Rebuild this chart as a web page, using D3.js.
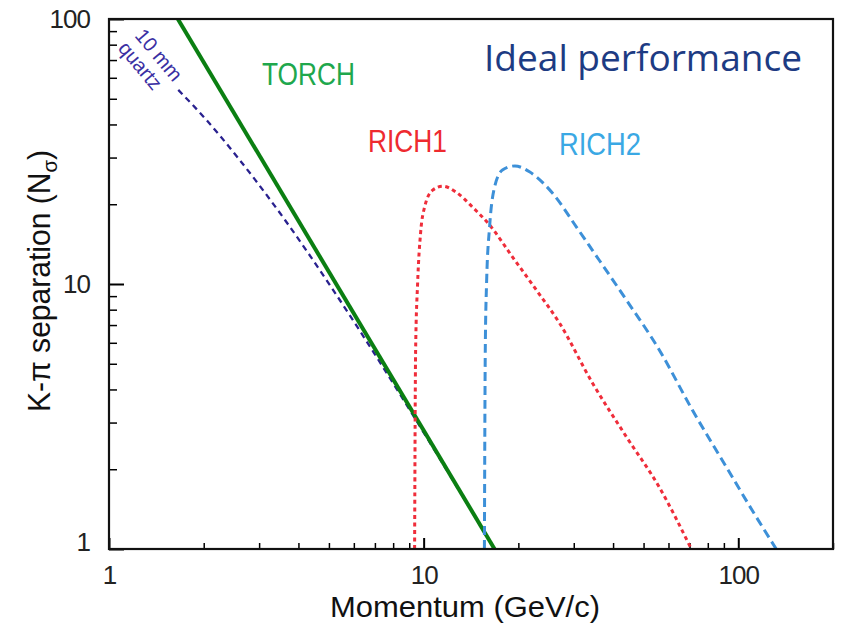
<!DOCTYPE html>
<html>
<head>
<meta charset="utf-8">
<script src="https://cdn.jsdelivr.net/npm/d3@7"></script>
<style>
  body { margin: 0; background: #fff; }
  svg text { font-family: "Liberation Sans", Arial, sans-serif; }
</style>
</head>
<body>
<div class="graph"></div>
<script>
// curves (momentum in GeV/c, separation in sigma)
const torchP = [1.655, 16.8];
const torchN = [100, 1];

const quartzP = [1.66, 2.04, 2.56, 3.63, 5.08, 6.95, 9.45, 12.38, 16.8];
const quartzN = [54.0, 41.6, 30.1, 17.4, 9.75, 5.5, 3.07, 1.82, 1];

const rich1P = [9.36, 9.43, 9.57, 9.78, 10.07, 10.68, 11.5, 12.7, 14.3, 16.2, 19.2, 22.8, 27.0, 34.4, 44.1, 56.1, 70.9];
const rich1N = [1, 5.64, 10.1, 15.6, 19.5, 22.6, 23.4, 22.2, 19.5, 16.7, 12.6, 9.5, 7.13, 4.23, 2.65, 1.71, 1];

const rich2P = [15.6, 15.7, 15.85, 16.2, 16.8, 17.8, 19.5, 21.7, 25.7, 30.6, 34.4, 44.1, 56.1, 71.4, 91.6, 110.7, 132];
const rich2N = [1, 5.64, 10.1, 16.4, 23.2, 26.9, 27.9, 26.5, 22.0, 16.4, 13.4, 8.7, 5.64, 3.35, 2.04, 1.4, 1];

const xMajor = [1, 10, 100];
const xMinor = [2, 3, 4, 5, 6, 7, 8, 9, 20, 30, 40, 50, 60, 70, 80, 90, 200];
const yMajor = [1, 10, 100];
const yMinor = [2, 3, 4, 5, 6, 7, 8, 9, 20, 30, 40, 50, 60, 70, 80, 90];

function main() {
  //setting
  const width = 848;
  const height = 626;
  const left = 109, right = 833, top = 19, bottom = 549;

  const xScale = d3.scaleLog().domain([1, 200]).range([left, right]);
  const yScale = d3.scaleLog().domain([1, 100]).range([bottom, top]);

  const svg = d3
    .select(".graph")
    .append("svg")
    .attr("width", width)
    .attr("height", height);

  svg.append("defs").append("clipPath").attr("id", "plot")
    .append("rect")
    .attr("x", left).attr("y", top)
    .attr("width", right - left).attr("height", bottom - top);

  //axes (ticks inside the frame)
  const axisText = g => g.selectAll("text")
    .style("font-size", "26px")
    .style("letter-spacing", "-1px")
    .attr("fill", "#222");

  svg.append("g")
    .attr("transform", "translate(0," + bottom + ")")
    .call(d3.axisBottom(xScale).tickValues(xMinor).tickSize(-6).tickFormat(""))
    .call(g => g.select(".domain").remove())
    .call(g => g.selectAll("line").attr("stroke-width", 1.5));
  svg.append("g")
    .attr("transform", "translate(0," + bottom + ")")
    .call(d3.axisBottom(xScale).tickValues(xMajor).tickSize(-11).tickPadding(17).tickFormat(d3.format("d")))
    .call(g => g.select(".domain").remove())
    .call(g => g.selectAll("line").attr("stroke-width", 2))
    .call(axisText);

  svg.append("g")
    .attr("transform", "translate(" + left + ",0)")
    .call(d3.axisLeft(yScale).tickValues(yMinor).tickSize(-8).tickFormat(""))
    .call(g => g.select(".domain").remove())
    .call(g => g.selectAll("line").attr("stroke-width", 1.5));
  svg.append("g")
    .attr("transform", "translate(" + left + ",0)")
    .call(d3.axisLeft(yScale).tickValues(yMajor).tickSize(-15).tickPadding(19).tickFormat(d3.format("d")))
    .call(g => g.select(".domain").remove())
    .call(g => g.selectAll("line").attr("stroke-width", 2))
    .call(axisText)
    .call(g => g.selectAll("text").filter(d => d === 1).attr("dy", "0.05em"));

  //curves
  const line = d3.line()
    .x(d => xScale(d[0]))
    .y(d => yScale(d[1]))
    .curve(d3.curveMonotoneX);
  const plot = svg.append("g").attr("clip-path", "url(#plot)");
  const series = [
    { p: quartzP, n: quartzN, color: "#29218f", w: 2.3, dash: "6,4.5" },
    { p: torchP, n: torchN, color: "#0b7f12", w: 4, dash: null },
    { p: rich1P, n: rich1N, color: "#ef2d3a", w: 3, dash: "4,3.5" },
    { p: rich2P, n: rich2N, color: "#3d90d8", w: 3, dash: "9,5" }
  ];
  series.forEach(s => {
    plot.append("path")
      .datum(s.p.map((p, i) => [p, s.n[i]]))
      .attr("fill", "none")
      .attr("stroke", s.color)
      .attr("stroke-width", s.w)
      .attr("stroke-dasharray", s.dash)
      .attr("d", line);
  });

  //frame
  svg.append("rect")
    .attr("x", left).attr("y", top)
    .attr("width", right - left).attr("height", bottom - top)
    .attr("fill", "none")
    .attr("stroke", "#111")
    .attr("stroke-width", 2.2);

  //labels
  const label = (txt, x, y, size, len, color) =>
    svg.append("text")
      .attr("x", x).attr("y", y)
      .attr("textLength", len)
      .attr("lengthAdjust", "spacingAndGlyphs")
      .style("font-size", size + "px")
      .attr("fill", color)
      .text(txt);
  label("TORCH", 262, 85, 32, 93, "#20a74c");
  label("RICH1", 368, 152, 32, 79, "#ee2a2f");
  label("RICH2", 559, 155, 32, 82, "#3aa8e4");
  label("Momentum (GeV/c)", 330, 617, 29, 270, "#111");
  label("Ideal performance", 484, 71, 37, 318, "#1d3b83")
    .style("font-family", "'Open Sans', sans-serif");

  const quartz = svg.append("g")
    .attr("transform", "translate(134,36) rotate(50)")
    .attr("fill", "#3a2fa3")
    .style("font-size", "20px");
  quartz.append("text").attr("x", 0).attr("y", 0).text("10 mm");
  quartz.append("text").attr("x", -1).attr("y", 21).text("quartz");

  const yLab = svg.append("text")
    .attr("transform", "translate(50,281) rotate(-90)")
    .attr("text-anchor", "middle")
    .attr("textLength", 262)
    .attr("lengthAdjust", "spacingAndGlyphs")
    .attr("fill", "#111")
    .style("font-size", "31px");
  yLab.append("tspan").text("K-\u03C0 separation (N");
  yLab.append("tspan").attr("dy", 7).style("font-size", "21px").text("\u03C3");
  yLab.append("tspan").attr("dy", -7).text(")");
}

main();
</script>
</body>
</html>
